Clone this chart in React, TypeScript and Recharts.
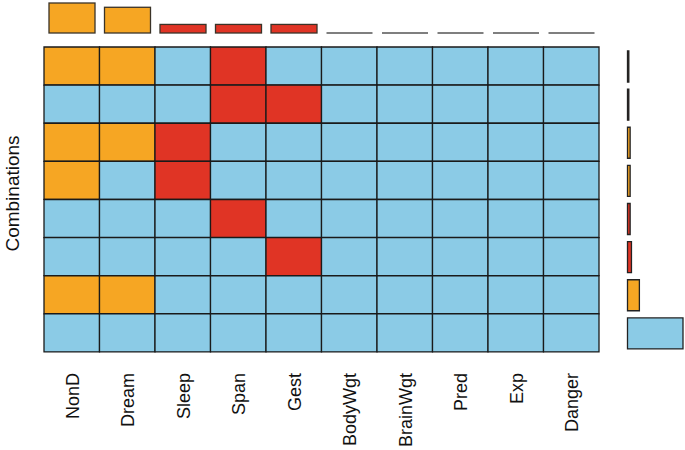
import React from 'react';
import { BarChart, Bar, XAxis, YAxis, Cell } from 'recharts';

const variables = ['NonD', 'Dream', 'Sleep', 'Span', 'Gest', 'BodyWgt', 'BrainWgt', 'Pred', 'Exp', 'Danger'];
const missingCounts = [14, 12, 4, 4, 4, 0, 0, 0, 0, 0];
const variableColors = ['#F6A623', '#F6A623', '#E03425', '#E03425', '#E03425', '#E03425', '#E03425', '#E03425', '#E03425', '#E03425'];

const combinations = ['NonD+Dream+Span', 'Span+Gest', 'NonD+Dream+Sleep', 'NonD+Sleep', 'Span', 'Gest', 'NonD+Dream', 'complete'];
const combinationMissing = [
  ['NonD', 'Dream', 'Span'],
  ['Span', 'Gest'],
  ['NonD', 'Dream', 'Sleep'],
  ['NonD', 'Sleep'],
  ['Span'],
  ['Gest'],
  ['NonD', 'Dream'],
  [],
];
const combinationCounts = [1, 1, 2, 2, 2, 3, 9, 42];

const BLUE = '#8BCBE6';
const FONT = '"Liberation Sans", Arial, Helvetica, sans-serif';

const gridData = combinations.map((name) => {
  const row: Record<string, any> = { name };
  variables.forEach((v) => { row[v] = 1; });
  return row;
});

const topData = variables.map((name, i) => ({ name, missing: missingCounts[i] }));
const rightData = combinations.map((name, i) => ({ name, count: combinationCounts[i] }));

const comboColor = (r: number) => {
  const miss = combinationMissing[r];
  if (miss.length === 0) return BLUE;
  return variableColors[variables.indexOf(miss[0])];
};

const TopShape = (props: any) => {
  const { x, y, width, height, fill } = props;
  if (x == null || width == null) return null;
  const h = Math.max(0, height || 0);
  if (h < 0.5) {
    return <line x1={x} x2={x + width} y1={y + (height || 0)} y2={y + (height || 0)} stroke="#555" strokeWidth={1.4} />;
  }
  return <rect x={x} y={y} width={width} height={h} fill={fill} stroke="#3a3328" strokeWidth={1.3} />;
};

const VarTick = (props: any) => {
  const { x, y, payload } = props;
  const idx = Math.floor(payload.value);
  return (
    <text
      x={x + 1}
      y={y}
      transform={`rotate(-90, ${x + 1}, ${y})`}
      textAnchor="end"
      dominantBaseline="central"
      fontSize={18}
      fill="#111"
      fontFamily={FONT}
    >
      {variables[idx]}
    </text>
  );
};

const YLabel = (props: any) => {
  const vb = props.viewBox || {};
  const cx = (vb.x ?? 44) - 31;
  const cy = (vb.y ?? 47) + (vb.height ?? 305) / 2 - 6;
  return (
    <text
      x={cx}
      y={cy}
      transform={`rotate(-90, ${cx}, ${cy})`}
      textAnchor="middle"
      dominantBaseline="central"
      style={{ fontSize: 19, fontFamily: FONT, fill: '#111' }}
    >
      Combinations
    </text>
  );
};

export default function App() {
  return (
    <div style={{ position: 'absolute', left: 0, top: 0, width: 685, height: 450, background: '#fff', fontFamily: FONT }}>
      <div style={{ position: 'absolute', left: 0, top: 0 }}>
        <BarChart width={685} height={40} data={topData} margin={{ top: 3, right: 86, bottom: 7, left: 44 }} barCategoryGap={0}>
          <XAxis dataKey="name" type="category" hide />
          <YAxis type="number" domain={[0, 'dataMax']} hide />
          <Bar dataKey="missing" barSize={46} isAnimationActive={false} shape={<TopShape />}>
            {topData.map((d, i) => (
              <Cell key={d.name} fill={variableColors[i]} />
            ))}
          </Bar>
        </BarChart>
      </div>
      <div style={{ position: 'absolute', left: 0, top: 0 }}>
        <BarChart width={685} height={450} data={gridData} layout="vertical" margin={{ top: 47, right: 86, bottom: 8, left: 43 }} barCategoryGap={0}>
          <XAxis
            type="number"
            domain={[0, variables.length]}
            ticks={variables.map((_, i) => i + 0.5)}
            interval={0}
            height={90}
            tick={<VarTick />}
            tickLine={false}
            axisLine={false}
            tickSize={0}
            tickMargin={21}
          />
          <YAxis
            type="category"
            dataKey="name"
            width={1}
            tick={false}
            axisLine={false}
            tickLine={false}
            label={{ value: 'Combinations', position: 'left', content: <YLabel /> }}
          />
          {variables.map((v, vi) => (
            <Bar key={v} dataKey={v} stackId="grid" isAnimationActive={false} stroke="#1a1a1a" strokeWidth={1.3}>
              {gridData.map((row, r) => (
                <Cell key={r} fill={combinationMissing[r].includes(v) ? variableColors[vi] : BLUE} />
              ))}
            </Bar>
          ))}
        </BarChart>
      </div>
      <div style={{ position: 'absolute', left: 0, top: 0 }}>
        <BarChart width={685} height={450} data={rightData} layout="vertical" margin={{ top: 47, right: 2, bottom: 98, left: 627.5 }} barCategoryGap={0}>
          <XAxis type="number" domain={[0, 'dataMax']} hide />
          <YAxis type="category" dataKey="name" hide />
          <Bar dataKey="count" barSize={31} isAnimationActive={false} stroke="#222" strokeWidth={1.3}>
            {rightData.map((d, i) => (
              <Cell key={d.name} fill={comboColor(i)} />
            ))}
          </Bar>
        </BarChart>
      </div>
    </div>
  );
}
